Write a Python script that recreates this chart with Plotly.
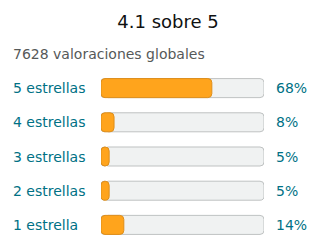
import plotly.graph_objects as go

categories = ["5 estrellas", "4 estrellas", "3 estrellas", "2 estrellas", "1 estrella"]
percentages = [68, 8, 5, 5, 14]
pct_labels = ["68%", "8%", "5%", "5%", "14%"]
title_text = "4.1 sobre 5"
subtitle_text = "7628 valoraciones globales"

FONT = "DejaVu Sans"
TEAL = "#007185"
TRACK = "#F0F2F2"
TRACK_LINE = "#BFC2C2"
ORANGE = "#FFA41C"
ORANGE_LINE = "#DE8E1A"
BW = 0.556

fig = go.Figure()
n = len(categories)
# Track (rounded right end), starting slightly in so the left cap hides its square corners
fig.add_trace(go.Bar(y=categories, x=[98] * n, base=[2] * n, orientation="h", width=BW,
                     marker=dict(color=TRACK, line=dict(color=TRACK_LINE, width=1), cornerradius=4),
                     hoverinfo="skip"))
# Track left cap (rounded left end)
fig.add_trace(go.Bar(y=categories, x=[-4] * n, base=[4] * n, orientation="h", width=BW,
                     marker=dict(color=TRACK, line=dict(color=TRACK_LINE, width=1), cornerradius=4),
                     hoverinfo="skip"))
# Filled portion (drawn from value back to 0 so the rounded end is on the left)
fig.add_trace(go.Bar(y=categories, x=[-p for p in percentages], base=percentages, orientation="h",
                     width=BW,
                     marker=dict(color=ORANGE, line=dict(color=ORANGE_LINE, width=1), cornerradius=4),
                     hoverinfo="skip"))

LEFT_X = (11 - 101) / 163
annotations = []
for cat, lab in zip(categories, pct_labels):
    annotations.append(dict(xref="paper", yref="y", x=1, y=cat, text=lab, xanchor="left",
                            xshift=10, showarrow=False, font=dict(family=FONT, size=14, color=TEAL)))
    annotations.append(dict(xref="paper", yref="y", x=LEFT_X, y=cat, text=cat,
                            xanchor="left", showarrow=False,
                            font=dict(family=FONT, size=14, color=TEAL)))
annotations.append(dict(xref="paper", yref="paper", x=LEFT_X, y=1 + (71 - 53.5) / 171,
                        text=subtitle_text, xanchor="left", yanchor="middle", showarrow=False,
                        font=dict(family=FONT, size=14, color="#565959")))

fig.update_layout(
    width=320, height=252,
    margin=dict(l=101, r=56, t=71, b=10),
    barmode="overlay",
    showlegend=False,
    paper_bgcolor="white", plot_bgcolor="white",
    title=dict(text=title_text, x=168 / 320, xanchor="center", xref="container",
               y=1 - 22 / 252, yanchor="middle", yref="container",
               font=dict(family=FONT, size=18, color="#0F1111")),
    xaxis=dict(range=[0, 100], visible=False, fixedrange=True),
    yaxis=dict(autorange="reversed", showticklabels=False, showgrid=False, zeroline=False,
               fixedrange=True),
    annotations=annotations,
)

fig.write_html("out.html", config={"displayModeBar": False})
